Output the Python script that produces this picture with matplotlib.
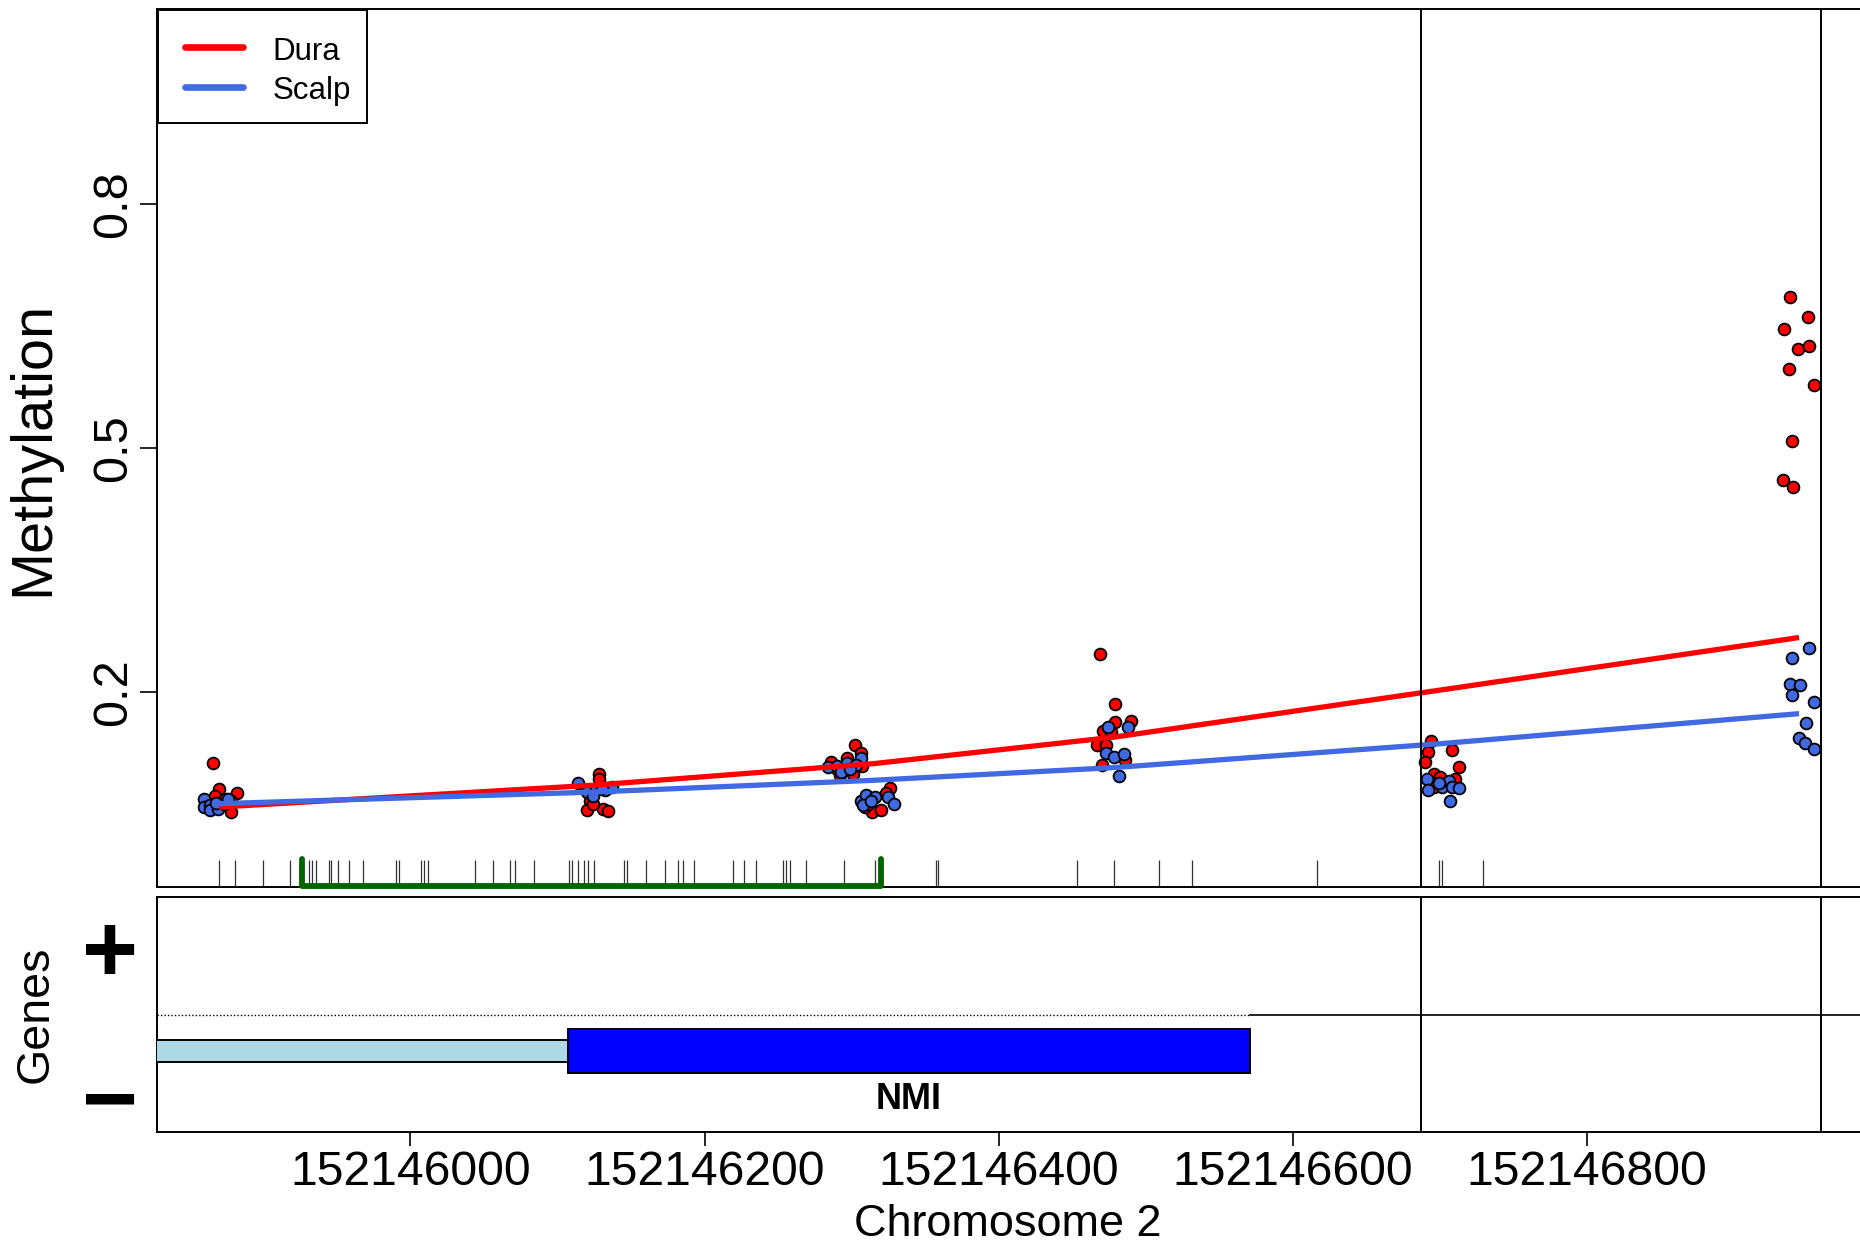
import matplotlib
matplotlib.use("Agg")
import matplotlib.pyplot as plt
import numpy as np

plt.rcParams['font.family'] = ['Liberation Sans', 'DejaVu Sans']

BASE = 152146000

# ---- Data (positions in bp relative to BASE, methylation 0..1) ----
dura_pos = [-134, -130, -118, -133, -122, -122, -126, -128,
            128, 128, 122, 120, 131, 134, 124,
            302, 306, 286, 297, 301, 292, 307, 290, 314, 320, 326, 323, 309, 311,
            469, 479, 479, 490, 471, 467, 473, 486, 470, 476,
            694, 692, 708, 690, 713, 696, 710, 696, 700,
            938, 950, 934, 943, 951, 937, 954, 939, 933, 940]
dura_meth = [0.112, 0.080, 0.075, 0.072, 0.065, 0.052, 0.068, 0.060,
             0.099, 0.093, 0.066, 0.055, 0.056, 0.053, 0.062,
             0.135, 0.124, 0.113, 0.119, 0.099, 0.097, 0.108, 0.105, 0.052, 0.054, 0.081, 0.075, 0.058, 0.062,
             0.247, 0.185, 0.163, 0.164, 0.152, 0.134, 0.135, 0.116, 0.110, 0.150,
             0.139, 0.126, 0.128, 0.114, 0.107, 0.099, 0.092, 0.083, 0.095,
             0.686, 0.661, 0.647, 0.622, 0.625, 0.597, 0.578, 0.509, 0.461, 0.452]
scalp_pos = [-140, -140, -136, -136, -131, -127, -124, -132,
             114, 120, 126, 132, 137, 124, 130,
             284, 290, 297, 306, 293, 303, 299, 306, 310, 325, 329, 316, 308, 313,
             488, 474, 473, 478, 485, 482,
             691, 692, 701, 706, 708, 713, 707, 699,
             951, 939, 938, 945, 939, 954, 949, 944, 948, 954]
scalp_meth = [0.068, 0.058, 0.060, 0.054, 0.056, 0.062, 0.068, 0.063,
              0.088, 0.077, 0.079, 0.079, 0.083, 0.072, 0.082,
              0.107, 0.109, 0.112, 0.118, 0.101, 0.110, 0.105, 0.066, 0.073, 0.071, 0.062, 0.070, 0.060, 0.065,
              0.157, 0.156, 0.124, 0.120, 0.123, 0.096,
              0.092, 0.079, 0.083, 0.090, 0.083, 0.081, 0.066, 0.088,
              0.254, 0.241, 0.210, 0.208, 0.196, 0.187, 0.162, 0.143, 0.137, 0.130]

line_pos = [-130, 125, 315, 478, 700, 944]
dura_line = [0.058, 0.085, 0.1115, 0.144, 0.202, 0.2667]
scalp_line = [0.0622, 0.0765, 0.091, 0.1066, 0.136, 0.173]

cpg_pos = [-130, -119, -100, -82, -69, -67, -64, -55, -54, -49, -42, -32, -10, -8,
           7, 9, 12, 44, 56, 68, 71, 84, 108, 110, 114, 118, 121, 125, 145, 147,
           160, 173, 182, 185, 193, 219, 227, 235, 253, 255, 258, 269, 295, 316,
           357, 359, 453, 478, 509, 531, 616, 699, 701, 729]
island = [-73.5, 320]
dmr_bounds = [687, 958.6]

gene_name = "NMI"
utr = [-300, 107]
cds = [107, 571]

xticks = [152146000, 152146200, 152146400, 152146600, 152146800]
legend_labels = ["Dura", "Scalp"]

# ---- Figure ----
W, H = 1860, 1245
fig = plt.figure(figsize=(W / 100, H / 100), dpi=100)

def fx(px):
    return px / W

def fy(py):
    return 1 - py / H

xl, xr = 156.9, 1880.0
yt, yb = 9.3, 886.7
xlim = (BASE + (xl - 410.4) / 1.471, BASE + (xr - 410.4) / 1.471)

ax = fig.add_axes([fx(xl), fy(yb), fx(xr) - fx(xl), fy(yt) - fy(yb)])
axg = fig.add_axes([fx(xl), fy(1132.3), fx(xr) - fx(xl), fy(896.7) - fy(1132.3)])

red = "#FF0000"
blue = "#4169E1"

for a in (ax, axg):
    a.set_xlim(*xlim)
    for s in a.spines.values():
        s.set_linewidth(1.4)

ax.set_ylim(-0.04, 1.04)

# points
ax.scatter(np.array(dura_pos) + BASE, dura_meth, s=72, c=red, edgecolors='black',
           linewidths=1.3, zorder=3)
ax.scatter(np.array(scalp_pos) + BASE, scalp_meth, s=72, c=blue, edgecolors='black',
           linewidths=1.3, zorder=3)

# smooth lines
ax.plot(np.array(line_pos) + BASE, dura_line, color=red, lw=3.8, zorder=4,
        solid_capstyle='butt')
ax.plot(np.array(line_pos) + BASE, scalp_line, color=blue, lw=3.8, zorder=4,
        solid_capstyle='butt')

# CpG ticks
ax.vlines(np.array(cpg_pos) + BASE, -0.04, -0.0075, color='#333333', lw=0.9, zorder=2)
# CpG island bracket
isl = np.array(island) + BASE
ax.plot([isl[0], isl[0], isl[1], isl[1]], [-0.0055, -0.039, -0.039, -0.0055],
        color='#006400', lw=4.2, solid_capstyle='round', solid_joinstyle='round',
        zorder=5, clip_on=False)

# DMR boundaries
for a in (ax, axg):
    for b in dmr_bounds:
        a.axvline(BASE + b, color='black', lw=1.4, zorder=6)

ax.set_yticks([0.2, 0.5, 0.8])
ax.set_yticklabels(["0.2", "0.5", "0.8"], rotation=90, va='center', ha='center')
ax.tick_params(axis='y', length=12.2, width=1.2, pad=18.7, labelsize=35)
ax.tick_params(axis='x', bottom=False, labelbottom=False)
fig.text(fx(33), fy(448), "Methylation", rotation=90, ha='center', va='center',
         fontsize=41.5)

# legend (box, keys and labels placed in axes-fraction coordinates)
aw, ah = xr - xl, yb - yt

def axx(px):
    return (px - xl) / aw

def axy(py):
    return 1 - (py - yt) / ah

ax.add_patch(plt.Rectangle((axx(157.6), axy(123.4)), axx(366.5) - axx(157.6),
                           axy(10.0) - axy(123.4), transform=ax.transAxes,
                           facecolor='white', edgecolor='black', lw=1.4, zorder=7))
for lab, col, py in zip(legend_labels, [red, blue], [47.4, 86.6]):
    ax.plot([axx(185), axx(243)], [axy(py), axy(py)], transform=ax.transAxes,
            color=col, lw=4.8, solid_capstyle='round', zorder=8)
    ax.text(axx(272.3), axy(py + 1), lab, transform=ax.transAxes, ha='left',
            va='center_baseline', fontsize=22.5, zorder=8)

# Genes panel
axg.set_ylim(-1, 1)
axg.set_yticks([])
axg.plot([xlim[0], BASE + cds[1]], [0, 0], color='black', lw=1.0, ls=(0, (1, 1.5)))
axg.plot([BASE + cds[1], xlim[1]], [0, 0], color='black', lw=1.2)
axg.add_patch(plt.Rectangle((BASE + utr[0], -0.40), utr[1] - utr[0], 0.185,
                            facecolor='#ADD8E6', edgecolor='black', lw=1.4, zorder=3))
axg.add_patch(plt.Rectangle((BASE + cds[0], -0.494), cds[1] - cds[0], 0.37,
                            facecolor='#0000FF', edgecolor='black', lw=1.4, zorder=3))
axg.text(BASE + (cds[0] + cds[1]) / 2, -0.72, gene_name, ha='center', va='center',
         fontsize=26, fontweight='bold')
fig.text(fx(109.5), fy(982), "+", ha='center', va='baseline',
         fontsize=69, fontweight='bold')
fig.text(fx(109.5), fy(1130), "\u2212", ha='center', va='baseline',
         fontsize=69, fontweight='bold')
fig.text(fx(35.6), fy(1014), "Genes", rotation=90, ha='center', va='center', fontsize=33.6)

axg.set_xticks(xticks)
axg.set_xticklabels([str(t) for t in xticks])
axg.tick_params(axis='x', length=10, width=1.2, pad=3, labelsize=34.7)
fig.text(fx(1008), fy(1224), "Chromosome 2", ha='center', va='center', fontsize=32.4)

fig.savefig("out.png", dpi=100)
